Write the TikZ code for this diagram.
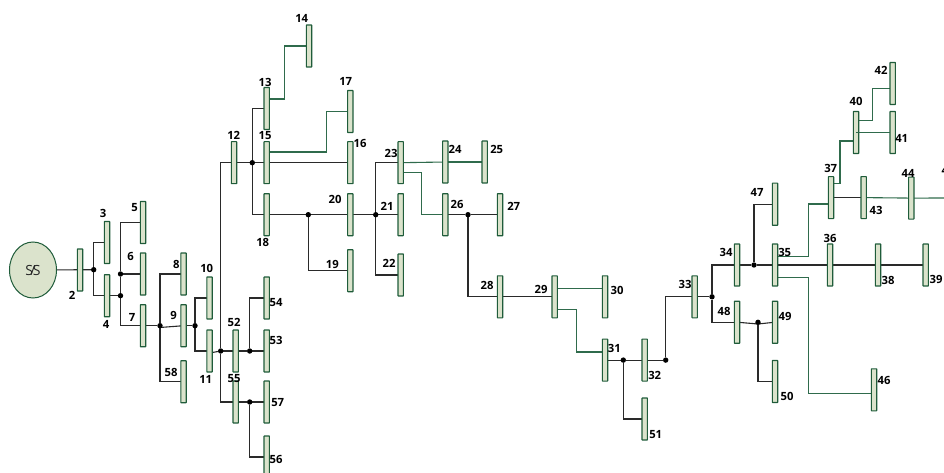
\documentclass[tikz,border=0pt]{standalone}
\usepackage{fontspec}
\setmainfont{Open Sans}
\usetikzlibrary{backgrounds,shapes.geometric}
\definecolor{busfill}{HTML}{DBE3CC}
\definecolor{busline}{HTML}{1F5C3A}
\definecolor{greenwire}{HTML}{2F6B4C}
\definecolor{blackwire}{HTML}{2A2A2A}
\tikzset{
  bus/.style={draw=busline,fill=busfill,line width=1.1pt,rounded corners=0.4pt,minimum width=5.4pt,minimum height=42pt,inner sep=0pt,outer sep=0pt},
  sstn/.style={ellipse,draw=busline,fill=busfill,line width=1pt,minimum width=47pt,minimum height=56pt,inner sep=0pt,font=\fontsize{14}{14}\selectfont,text=black!85},
  junc/.style={circle,fill=black,minimum size=5.4pt,inner sep=0pt,outer sep=0pt},
  lab/.style={font=\fontsize{11.3}{11}\selectfont\bfseries,text=black,inner sep=0pt,yshift=-0.7pt},
  bw/.style={draw=blackwire,line width=1.1pt},
  gw/.style={draw=greenwire,line width=1.1pt}
}
\begin{document}
\begin{tikzpicture}[x=1pt,y=-1pt]
\useasboundingbox (0,0) rectangle (944,473);
% substation
\node[sstn] (ss) at (33,270) {S\kern-2.6pt/\kern-2.6pt S};
% buses
\foreach \n/\x/\y in {2/80/270,3/107/242.5,4/107/295.7,5/143/222.5,6/143/274,7/143/325.7,
  8/183.5/274,9/183.5/325.7,58/183.5/381.7,10/209.5/298,11/209.5/351,52/235.7/351,55/235.7/402,
  54/266.7/298,53/266.7/351,57/266.7/402,56/266.7/457,18/266.7/214.7,14/309/46,13/266.7/108.5,
  15/266.7/162.7,12/234/162.7,17/350.3/111.5,16/350.3/162.7,20/350.3/214.7,19/350.3/270.7,
  23/400.7/162.7,21/400.7/214.7,22/400.7/275,24/445.3/162,26/445.3/214.7,25/484.7/162,27/500/214.7,
  28/500/296.8,29/554.7/296.8,30/605/296.8,31/605/360.1,32/644.7/360.1,51/644.7/419,33/694.7/296.8,
  34/737/265,48/737/322.2,35/775/265,47/775/204.2,49/775/322.2,50/775/381.5,36/830/265,
  37/831/197.6,38/878/265,39/925.7/265,43/863.7/197.6,44/911.3/198.1,40/856/132.5,41/892.7/132.5,
  42/892.7/83.5,46/874/389.8}
  {\node[bus] (b\n) at (\x,\y) {};}
% junctions
\foreach \n/\x/\y in {1/93.7/269.7,2/120.5/274,3/120.5/295.7,4/160/325.7,5/195/325.7,6/220.7/351,
  7/249.7/351,8/249.7/402,9/252.3/162.7,10/308.3/214.7,11/375.7/214.7,12/468/214.7,13/623.3/360.1,
  14/665.7/360.1,15/712/296.8,16/754/265,17/758/322.3}
  {\node[junc] (j\n) at (\x,\y) {};}
% bend points
\coordinate (c14) at (284.7,99);
\coordinate (c17) at (326.3,152);
\coordinate (c26) at (421.3,172.7);
\coordinate (c30) at (605,288.3);
\coordinate (c31) at (576.7,309.3);
\coordinate (c31b) at (605,352);
\coordinate (c37) at (808.3,256.7);
\coordinate (c37b) at (831,204);
\coordinate (c46) at (808.3,277.7);
\coordinate (c46b) at (874,393.7);
\coordinate (c40) at (840,183.3);
\coordinate (c40b) at (856,141);
\coordinate (c42) at (872.3,120.3);
\coordinate (c42b) at (892.7,88.3);
\coordinate (s9) at (160,327.5);
\coordinate (s11) at (209.5,353);
\coordinate (s48) at (758,324);
\coordinate (edge) at (946,198);
\begin{pgfonlayer}{background}
  % black wires
  \draw[bw] (ss) -- (j1);
  \draw[bw] (j1) |- (b3);
  \draw[bw] (j1) |- (j3);
  \draw[bw] (b5) -| (j2);
  \draw[bw] (j2) -- (j3);
  \draw[bw] (j2) -- (b6);
  \draw[bw] (j3) |- (j4);
  \draw[bw] (j4) |- (b8);
  \draw[bw] (j4) |- (b58);
  \draw[bw] (s9) -- (b9);
  \draw[bw] (b9) -- (j5);
  \draw[bw] (j5) |- (b10);
  \draw[bw] (j5) |- (b11);
  \draw[bw] (s11) -- (j6);
  \draw[bw] (j6) -- (j7);
  \draw[bw] (j7) -- (b53);
  \draw[bw] (j7) |- (b54);
  \draw[bw] (j6) |- (j9);
  \draw[bw] (j6) |- (j8);
  \draw[bw] (j8) -- (b57);
  \draw[bw] (j8) |- (b56);
  \draw[bw] (j9) -- (b16);
  \draw[bw] (j9) |- (b13);
  \draw[bw] (j9) |- (j10);
  \draw[bw] (j10) -- (j11);
  \draw[bw] (j11) -- (b21);
  \draw[bw] (j10) |- (b19);
  \draw[bw] (j11) |- (b23);
  \draw[bw] (j11) |- (b22);
  \draw[bw] (b26) -- (j12);
  \draw[bw] (j12) -- (b27);
  \draw[bw] (j12) |- (b29);
  \draw[bw] (b31) -- (j13);
  \draw[bw] (j13) -- (j14);
  \draw[bw] (j13) |- (b51);
  \draw[bw] (j14) |- (b33);
  \draw[bw] (b33) -- (j15);
  \draw[bw] (j15) |- (b34);
  \draw[bw] (j15) |- (b48);
  \draw[bw] (b34) -- (j16);
  \draw[bw] (j16) -- (b39);
  \draw[bw] (j16) |- (b47);
  \draw[bw] (b48) -- (s48);
  \draw[bw] (s48) -- (b49);
  \draw[bw] (j17) |- (b50);
  \draw[bw] (b37) -- (b43);
  % green wires
  \draw[gw] (b13 |- c14) -- (c14) |- (b14);
  \draw[gw] (b15 |- c17) -- (c17) |- (b17);
  \draw[gw] (b23) -- (b24);
  \draw[gw] (b24) -- (b25);
  \draw[gw] (b23 |- c26) -- (c26) |- (b26);
  \draw[gw] (b29 |- c30) -- (c30);
  \draw[gw] (b29 |- c31) -- (c31) |- (c31b);
  \draw[gw] (b35 |- c37) -- (c37) |- (c37b);
  \draw[gw] (b35 |- c46) -- (c46) |- (c46b);
  \draw[gw] (b37 |- c40) -- (c40) |- (c40b);
  \draw[gw] (b40 |- c42) -- (c42) |- (c42b);
  \draw[gw] (b43) -- (b44);
  \draw[gw] (b44) -- (edge);
\end{pgfonlayer}
\draw[gw] (b40.center) -- (b41);
% labels
\foreach \n/\x/\y in {2/72/295,3/103/212.7,4/106/324,5/134.7/206.7,6/130.7/255.7,7/132/317,8/176.3/264,
  9/173.7/315,58/171/371.7,10/206.7/268,11/205.7/379,52/234/322,55/234/377.7,54/276/302,53/276/340,
  57/277.7/401.7,56/276/458.7,18/262.7/242,14/301.7/17.7,13/265/81.7,17/345.7/80.7,12/233.7/135,
  15/265/135,16/360/143,20/335/199,23/391/152.7,24/455/149,25/496.7/149,26/457/204,27/513.7/206,
  21/387/206,19/332.3/264,22/389/262.3,28/487/285,29/541/289,30/617/290,31/614.3/348,32/654.7/375,
  51/655.7/434,33/685/284,34/726/252,48/724/311,42/881/69.3,40/856/101,41/901.7/138,37/830.7/168,
  47/757/192,43/876/210,44/908/173,36/830/238,35/784.7/252,38/888/280,39/936/279,49/785/316,
  50/787/396,46/884/380,45/948/170}
  {\node[lab] (l\n) at (\x,\y) {\n};}
\end{tikzpicture}
\end{document}
